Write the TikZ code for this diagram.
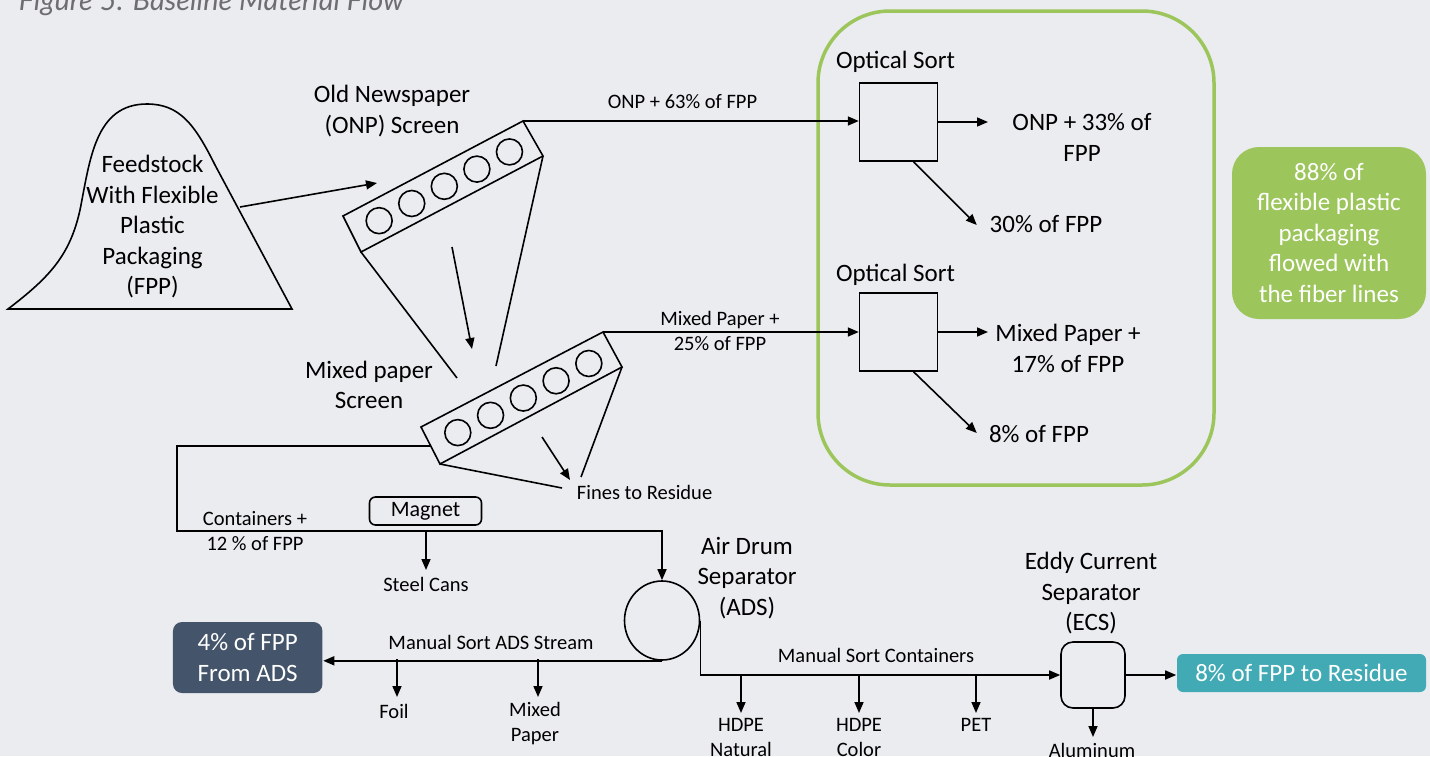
\documentclass[tikz,border=0pt]{standalone}
\usepackage{fontspec}
\setmainfont{Carlito}
\newfontfamily\titlefont{Lato}
\usetikzlibrary{arrows.meta,shapes.geometric,calc}
\definecolor{bgc}{HTML}{EBECF0}
\definecolor{grn}{HTML}{9CC55B}
\definecolor{navyc}{HTML}{44546A}
\definecolor{tealc}{HTML}{41AAB4}
\definecolor{titlec}{HTML}{6E6E72}
\begin{document}
\begin{tikzpicture}[x=1pt,y=-1pt,line width=1.6pt,
  big/.style={font=\fontsize{25}{30.5}\selectfont,align=center,inner sep=0pt},
  small/.style={font=\fontsize{20.5}{25}\selectfont,align=center,inner sep=0pt},
  arr/.style={-{Triangle[length=11pt,width=9pt]}},
  sortbox/.style={draw,rectangle,minimum width=78pt,minimum height=78pt,inner sep=0pt},
  filledbox/.style={rectangle,text=white,align=center,inner sep=0pt,font=\fontsize{25}{30.5}\selectfont},
  wheel/.style={draw,circle,minimum size=26pt,inner sep=0pt}]
\useasboundingbox (0,0) rectangle (1430,756);
\clip (0,0) rectangle (1430,756);
\fill[bgc] (0,0) rectangle (1430,756);

% title (cut at top)
\node[anchor=base west,inner sep=0pt,text=titlec] (title) at (18,10)
  {\resizebox{385pt}{!}{\titlefont\itshape Figure 5: Baseline Material Flow}};

% green frame
\draw[grn,line width=3.5pt,rounded corners=72pt] (818,11) rectangle (1214,485);

% feedstock pile
\draw (8,309) .. controls (50,277) and (70,255) .. (80,210)
      .. controls (90,160) and (95,104) .. (147,104)
      .. controls (180,104) and (195,125) .. (215,165)
      -- (292,309) -- cycle;
\coordinate (pileout) at (240,207);
\node[big] (feed) at (152.5,227) {Feedstock\\With Flexible\\Plastic\\Packaging\\(FPP)};

% ONP screen
\coordinate (A) at (343,216);
\coordinate (B) at (361,252);
\coordinate (C) at (543,156);
\coordinate (D) at (523,121);
\draw (A) -- (B) -- (C) -- (D) -- cycle;
\foreach \f [count=\i] in {0.15,0.33,0.51,0.69,0.87}
  \node[wheel] (onpw\i) at ($(352,235)!\f!(533,139.5)$) {};
\coordinate (onpin) at (377,183);
\draw[arr] (pileout) -- (onpin);
\node[big] (onplab) at (392,111) {Old Newspaper\\(ONP) Screen};

% Mixed paper screen
\coordinate (E) at (421,427);
\coordinate (F) at (440,464);
\coordinate (G) at (622,367);
\coordinate (H) at (603,332);
\draw (E) -- (F) -- (G) -- (H) -- cycle;
\foreach \f [count=\i] in {0.15,0.33,0.51,0.69,0.87}
  \node[wheel] (mixw\i) at ($(430.5,447)!\f!(612.5,351)$) {};
\node[big] (mixlab) at (369,385) {Mixed paper\\Screen};

% links between screens
\coordinate (b1) at (457,378);
\coordinate (c1) at (496,366);
\coordinate (m1) at (452,247);
\coordinate (m2) at (472,349);
\draw (B) -- (b1);
\draw (C) -- (c1);
\draw[arr] (m1) -- (m2);

% fines
\coordinate (f1) at (562,488);
\coordinate (f2) at (581,477);
\coordinate (f3) at (542,437);
\coordinate (f4) at (570,480);
\draw (F) -- (f1);
\draw (G) -- (f2);
\draw[arr] (f3) -- (f4);
\node[small] (fines) at (644.6,492) {Fines to Residue};

% optical sorts
\node[sortbox] (os1) at (898.6,122) {};
\node[sortbox] (os2) at (898.6,332) {};
\node[big] (os1lab) at (895.5,62) {Optical Sort};
\node[big] (os2lab) at (895.5,275) {Optical Sort};
\draw[arr] (D) -- (os1.west |- D);
\draw[arr] (H) -- (os2.west |- H);
\node[small] (onp63) at (682.5,102) {ONP + 63\% of FPP};
\node[small] (mix25) at (720,331) {Mixed Paper +\\25\% of FPP};

\coordinate (o1e) at (988,122);
\coordinate (o1d) at (976.8,225);
\coordinate (o2e) at (988,332);
\coordinate (o2d) at (976.8,433);
\draw[arr] (os1.east) -- (o1e);
\draw[arr] ($(os1.south)+(15,0)$) -- (o1d);
\draw[arr] (os2.east) -- (o2e);
\draw[arr] ($(os2.south)+(15,0)$) -- (o2d);
\node[big] (onp33) at (1082,137.5) {ONP + 33\% of\\FPP};
\node[big] (p30) at (1046,224) {30\% of FPP};
\node[big] (mix17) at (1068,348.5) {Mixed Paper +\\17\% of FPP};
\node[big] (p8) at (1039,434) {8\% of FPP};

% green note
\node[filledbox,fill=grn,rounded corners=27pt,minimum width=194pt,minimum height=172pt]
  (note) at (1329,233) {88\% of\\flexible plastic\\packaging\\flowed with\\the fiber lines};

% containers line
\node[ellipse,draw,minimum width=75pt,minimum height=79pt,inner sep=0pt] (ads) at (662,620.5) {};
\coordinate (k0) at (430.8,446);
\coordinate (k1) at (177,446);
\coordinate (k2) at (177,531);
\draw[arr] (k0) -- (k1) -- (k2) -- (k2 -| ads.north) -- (ads.north);
\node[small] (cont12) at (255,531.5) {Containers +\\12 \% of FPP};
\node[draw,rectangle,rounded corners=6pt,minimum width=112pt,minimum height=28pt,inner sep=0pt,
  font=\fontsize{22}{26}\selectfont] (magnet) at (425.5,511) {Magnet};
\coordinate (sc0) at (426,531);
\coordinate (sc1) at (426,570);
\draw[arr] (sc0) -- (sc1);
\node[small] (steel) at (426,584) {Steel Cans};

\node[big] (adslab) at (747,578) {Air Drum\\Separator\\(ADS)};

% ADS stream
\node[filledbox,fill=navyc,rounded corners=9pt,minimum width=149.5pt,minimum height=71pt]
  (fpp4) at (247.7,657.5) {4\% of FPP\\From ADS};
\draw[arr] (ads.south) -- (ads.south -| fpp4.east);
\node[small] (msads) at (491,642) {Manual Sort ADS Stream};
\coordinate (fo0) at (397,659);
\coordinate (fo1) at (397,697);
\coordinate (mp0) at (538,659);
\coordinate (mp1) at (538,697);
\draw[arr] (fo0) -- (fo1);
\draw[arr] (mp0) -- (mp1);
\node[small] (foil) at (394,711) {Foil};
\node[small] (mixp) at (535,724) {Mixed\\Paper};

% containers to ECS
\node[draw,rectangle,rounded corners=12pt,minimum width=64pt,minimum height=66pt,inner sep=0pt]
  (ecs) at (1093,675) {};
\draw[arr] (ads.east) -- (ads.east |- ecs.west) -- (ecs.west);
\node[small] (mscont) at (876,655) {Manual Sort Containers};
\foreach \x/\n in {741/hn,859/hc,976/pet}{
  \coordinate (\n0) at (\x,675);
  \coordinate (\n1) at (\x,713);
  \draw[arr] (\n0) -- (\n1);
}
\node[small] (hdpen) at (741,737.5) {HDPE\\Natural};
\node[small] (hdpec) at (859,737.5) {HDPE\\Color};
\node[small] (petl) at (976,725) {PET};
\node[big] (ecslab) at (1091,593.5) {Eddy Current\\Separator\\(ECS)};

\node[filledbox,fill=tealc,rounded corners=6pt,minimum width=249pt,minimum height=38pt]
  (res8) at (1301.5,673) {8\% of FPP to Residue};
\draw[arr] (ecs.east) -- (ecs.east -| res8.west);
\coordinate (al1) at (1093,737);
\draw[arr] (ecs.south) -- (al1);
\node[small] (alu) at (1092,750) {Aluminum};
\end{tikzpicture}
\end{document}
